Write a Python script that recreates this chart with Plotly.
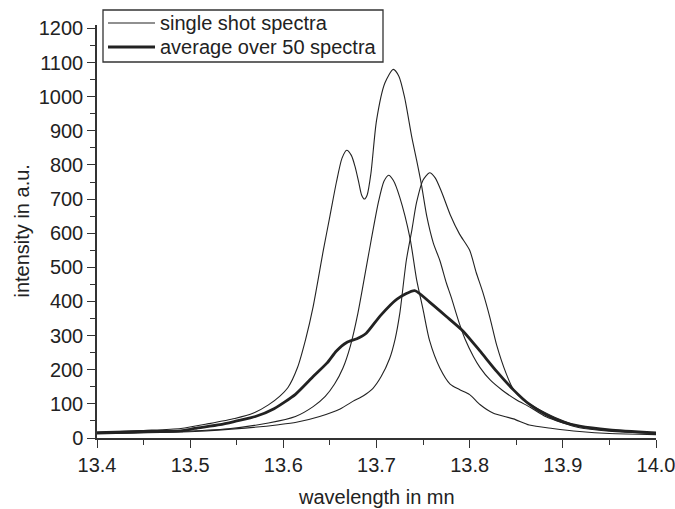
import plotly.graph_objects as go

# Single-shot spectrum 1 (double peak)
a_x = [13.40, 13.45, 13.49, 13.52, 13.548, 13.568, 13.584, 13.596, 13.605, 13.615, 13.624, 13.632,
       13.643, 13.650, 13.657, 13.663, 13.668, 13.673, 13.677, 13.681, 13.684, 13.687, 13.690, 13.694,
       13.700, 13.709, 13.718, 13.724, 13.730, 13.738, 13.743, 13.748, 13.754, 13.761, 13.768, 13.775,
       13.780, 13.789, 13.795, 13.804, 13.811, 13.822, 13.835, 13.850, 13.865, 13.882, 13.918, 13.95, 14.0]
a_y = [16, 22, 28, 42, 57, 73, 97, 122, 148, 205, 290, 385,
       551, 650, 750, 820, 843, 828, 795, 748, 712, 700, 712, 775,
       930, 1040, 1080, 1060, 1000, 880, 815, 746, 649, 571, 520, 454,
       414, 335, 290, 239, 207, 170, 140, 112, 90, 62, 30, 20, 13]

# Single-shot spectrum 2 (narrow peak)
b_x = [13.40, 13.487, 13.541, 13.584, 13.613, 13.632, 13.645, 13.655, 13.664, 13.672, 13.680, 13.691,
       13.702, 13.708, 13.713, 13.718, 13.725, 13.736, 13.743, 13.750, 13.757, 13.768, 13.779, 13.789,
       13.800, 13.811, 13.825, 13.847, 13.864, 13.889, 13.918, 13.95, 14.0]
b_y = [14, 19, 27, 44, 63, 92, 122, 158, 205, 270, 365, 530,
       690, 752, 770, 755, 705, 585, 465, 376, 285, 205, 158, 142,
       127, 98, 73, 56, 38, 28, 19, 13, 10]

# Single-shot spectrum 3 (red-shifted peak)
c_x = [13.40, 13.505, 13.559, 13.595, 13.614, 13.639, 13.661, 13.675, 13.686, 13.696, 13.705, 13.714,
       13.720, 13.725, 13.732, 13.738, 13.743, 13.750, 13.757, 13.763, 13.770, 13.779, 13.789, 13.800,
       13.807, 13.814, 13.822, 13.829, 13.839, 13.847, 13.857, 13.875, 13.897, 13.918, 13.95, 14.0]
c_y = [12, 19, 29, 39, 46, 63, 85, 108, 124, 145, 180, 232,
       290, 365, 520, 610, 690, 756, 777, 762, 720, 655, 598, 550,
       485, 428, 350, 272, 190, 142, 112, 83, 54, 34, 22, 14]

# Average over 50 spectra
avg_x = [13.40, 13.45, 13.49, 13.505, 13.532, 13.55, 13.57, 13.59, 13.613, 13.632, 13.647, 13.657,
         13.668, 13.679, 13.689, 13.704, 13.722, 13.741, 13.757, 13.775, 13.793, 13.811, 13.829, 13.847,
         13.864, 13.882, 13.90, 13.918, 13.95, 14.0]
avg_y = [16, 19, 21, 28, 39, 50, 63, 86, 128, 180, 220, 255,
         280, 291, 307, 358, 407, 432, 398, 356, 313, 255, 195, 141,
         99, 68, 47, 35, 24, 15]

x_ticks = [13.4, 13.5, 13.6, 13.7, 13.8, 13.9, 14.0]
legend_labels = ["single shot spectra", "average over 50 spectra"]
x_title = "wavelength in mn"
y_title = "intensity in a.u."

INK = "#222222"
AX = "#333333"
FONT = "Liberation Sans, Arial, sans-serif"
FS = 20

fig = go.Figure()
for xs, ys in [(a_x, a_y), (b_x, b_y), (c_x, c_y)]:
    fig.add_trace(go.Scatter(x=xs, y=ys, mode="lines",
                             line=dict(color=INK, width=1.1, shape="spline", smoothing=0.7),
                             showlegend=False, hoverinfo="skip"))
fig.add_trace(go.Scatter(x=avg_x, y=avg_y, mode="lines",
                         line=dict(color=INK, width=2.8, shape="spline", smoothing=0.6),
                         showlegend=False, hoverinfo="skip"))

axis_common = dict(showgrid=False, zeroline=False, showline=True, linecolor=AX, linewidth=1.5,
                   ticks="outside", ticklen=8, tickwidth=1.3, tickcolor=AX,
                   tickfont=dict(family=FONT, size=FS, color=INK), mirror=False,
                   automargin=False, ticklabeloverflow="allow")

fig.update_xaxes(range=[13.4, 14.0], tickvals=x_ticks, ticktext=[f"{v:.1f}" for v in x_ticks],
                 minor=dict(dtick=0.05, tick0=13.4, ticks="outside", ticklen=5, tickwidth=1.2, tickcolor=AX),
                 **axis_common)
fig.update_yaxes(range=[0, 1210], dtick=100, tick0=0,
                 minor=dict(dtick=50, ticks="outside", ticklen=5, tickwidth=1.2, tickcolor=AX),
                 **axis_common)

W, H = 675, 509
ml, mr, mt, mb = 97, 19, 25, 71
pw, ph = W - ml - mr, H - mt - mb

def px2paper_x(px):
    return (px - ml) / pw

def px2paper_y(py):
    return 1 - (py - mt) / ph

# Axis titles
fig.add_annotation(xref="paper", yref="paper", x=0.5, y=px2paper_y(497), text=x_title,
                   showarrow=False, xanchor="center", yanchor="middle",
                   font=dict(family=FONT, size=FS, color=INK))
fig.add_annotation(xref="paper", yref="paper", x=px2paper_x(21), y=0.5, text=y_title, textangle=-90,
                   showarrow=False, xanchor="center", yanchor="middle",
                   font=dict(family=FONT, size=FS, color=INK))

# Custom legend box
fig.add_shape(type="rect", xref="paper", yref="paper",
              x0=px2paper_x(103), x1=px2paper_x(383), y0=px2paper_y(62), y1=px2paper_y(10),
              line=dict(color=AX, width=1.3), fillcolor="white")
for i, (label, w) in enumerate(zip(legend_labels, [1.1, 2.8])):
    yy = px2paper_y(23 + i * 24)
    fig.add_shape(type="line", xref="paper", yref="paper",
                  x0=px2paper_x(108), x1=px2paper_x(155), y0=yy, y1=yy,
                  line=dict(color=INK, width=w))
    fig.add_annotation(xref="paper", yref="paper", x=px2paper_x(158), y=yy, text=label,
                       showarrow=False, xanchor="left", yanchor="middle",
                       font=dict(family=FONT, size=FS, color=INK))

fig.update_layout(width=W, height=H, margin=dict(l=ml, r=mr, t=mt, b=mb, autoexpand=False),
                  plot_bgcolor="white", paper_bgcolor="white", showlegend=False)

fig.write_html("out.html")
